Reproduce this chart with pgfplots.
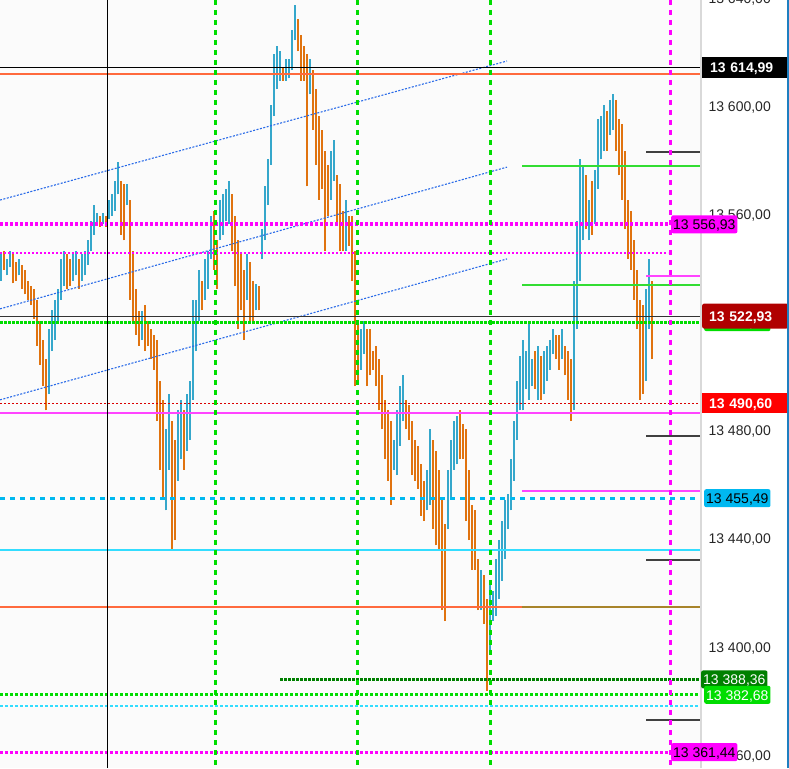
\documentclass[border=0pt]{standalone}
\usepackage{fontspec}
\setmainfont{Liberation Sans}
\usepackage{pgfplots}
\pgfplotsset{compat=1.18}
\usepackage{pgfplotstable}

\definecolor{upbar}{HTML}{35A7CB}
\definecolor{dnbar}{HTML}{E0730F}
\definecolor{mag}{HTML}{FF00FF}
\definecolor{mag2}{HTML}{FF44FF}
\definecolor{lgreen}{HTML}{00DD00}
\definecolor{dgreen}{HTML}{008000}
\definecolor{sgreen}{HTML}{33DD33}
\definecolor{skyb}{HTML}{00B8F0}
\definecolor{cyanl}{HTML}{33DDFF}
\definecolor{trend}{HTML}{2A6BE8}
\definecolor{tomato}{HTML}{FF6A3D}
\definecolor{olive2}{HTML}{A8842A}
\definecolor{darkred}{HTML}{B00000}
\definecolor{edge}{HTML}{1E7FC0}

% up bars: x (px), low, high
\pgfplotstableread{
x lo hi
1 13536 13546
7 13538 13544
10 13541 13547
19 13538 13544
49 13494 13518
52 13510 13525
55 13514 13529
58 13521 13533
61 13529 13544
64 13534 13547
73 13536 13546
76 13538 13547
82 13536 13546
85 13538 13547
88 13542 13551
91 13547 13558
94 13553 13564
97 13557 13561
103 13557 13561
109 13559 13566
112 13560 13568
115 13562 13573
118 13568 13580
127 13564 13572
142 13514 13525
166 13451 13481
169 13466 13494
178 13462 13488
181 13470 13492
187 13473 13494
190 13477 13499
193 13492 13529
196 13510 13529
199 13521 13540
205 13529 13544
208 13533 13547
211 13544 13560
220 13551 13566
223 13553 13568
226 13558 13570
229 13557 13573
247 13529 13546
256 13525 13535
262 13544 13555
265 13551 13571
268 13564 13581
271 13579 13601
274 13597 13620
277 13607 13623
280 13610 13621
286 13610 13618
289 13611 13618
292 13614 13629
295 13625 13638
310 13605 13618
331 13566 13584
334 13573 13588
346 13547 13566
361 13503 13518
364 13509 13521
394 13466 13477
397 13464 13488
400 13475 13497
403 13484 13501
427 13451 13466
430 13453 13481
448 13444 13466
451 13455 13477
454 13466 13484
457 13468 13486
481 13414 13429
490 13399 13425
493 13410 13421
496 13412 13433
499 13418 13440
502 13425 13447
505 13433 13455
508 13444 13457
511 13451 13470
514 13462 13484
517 13477 13499
520 13488 13508
523 13488 13514
526 13496 13510
529 13492 13521
532 13497 13507
538 13492 13512
544 13494 13510
547 13499 13512
550 13503 13514
553 13509 13518
562 13507 13518
574 13488 13536
577 13518 13558
580 13536 13581
583 13551 13579
589 13551 13566
595 13557 13577
598 13570 13596
601 13581 13597
604 13584 13601
610 13590 13603
613 13592 13605
646 13499 13533
649 13518 13544
}\upbars

% down bars: x (px), low, high
\pgfplotstableread{
x lo hi
4 13540 13547
13 13535 13546
16 13536 13543
22 13533 13542
25 13531 13540
28 13529 13536
31 13527 13534
34 13522 13533
37 13512 13529
40 13505 13521
43 13497 13514
46 13488 13507
67 13533 13546
70 13534 13544
79 13533 13544
100 13556 13560
106 13556 13560
121 13553 13573
124 13551 13572
130 13529 13566
133 13520 13547
136 13516 13533
139 13512 13525
145 13510 13527
148 13512 13521
151 13507 13518
154 13503 13516
157 13484 13514
160 13466 13499
163 13455 13492
172 13436 13484
175 13440 13477
184 13466 13488
202 13525 13536
214 13540 13562
217 13533 13551
232 13547 13568
235 13534 13560
238 13518 13551
241 13525 13546
244 13514 13540
250 13520 13543
253 13521 13536
259 13525 13534
283 13610 13615
298 13621 13633
301 13610 13627
304 13610 13623
307 13571 13620
313 13592 13614
316 13579 13607
319 13566 13597
322 13570 13592
325 13547 13584
328 13560 13579
337 13557 13575
340 13547 13572
343 13547 13562
349 13549 13560
352 13536 13560
355 13497 13547
358 13499 13521
367 13497 13518
370 13501 13518
373 13503 13510
376 13497 13512
379 13488 13507
382 13481 13501
385 13470 13492
388 13462 13488
391 13453 13484
406 13481 13492
409 13477 13490
412 13464 13484
415 13462 13477
418 13459 13475
421 13449 13468
424 13447 13462
433 13444 13477
436 13438 13473
439 13436 13466
442 13414 13455
445 13410 13446
460 13470 13488
463 13470 13483
466 13447 13481
469 13440 13466
472 13429 13453
475 13429 13451
478 13414 13433
484 13409 13427
487 13384 13418
535 13496 13510
541 13492 13508
556 13507 13516
559 13503 13516
565 13501 13512
568 13492 13510
571 13484 13507
586 13555 13575
592 13553 13573
607 13584 13599
616 13584 13603
619 13575 13596
622 13566 13594
625 13555 13584
628 13544 13566
631 13540 13562
634 13529 13551
637 13518 13540
640 13492 13529
643 13494 13527
652 13507 13536
}\dnbars

\newcommand{\lab}{\fontsize{14}{16}\selectfont}
\tikzset{
  tag/.style={anchor=west, font=\lab, inner xsep=2pt, inner ysep=0pt,
    minimum height=18pt, text height=10.5pt, text depth=0pt, rounded corners=2pt},
}

\begin{document}
\begin{tikzpicture}
\begin{axis}[
    at={(0,0)}, anchor=south west,
    scale only axis, width=702pt, height=768pt,
    xmin=0, xmax=702, ymin=13355.56, ymax=13640,
    set layers, clip mode=individual,
    axis line style={draw=none},
    axis background/.style={fill=gray!3},
    xtick=\empty,
    yticklabel pos=right,
    ytick={13360,13400,13440,13480,13560,13600,13640},
    yticklabels={{13 360,00},{13 400,00},{13 440,00},{13 480,00},{13 560,00},{13 600,00},{13 640,00}},
    major tick length=0pt,
    yticklabel style={font=\lab, text=black!85, xshift=3pt},
  ]
  % candles
  \addplot[draw=none, mark=none, forget plot,
    error bars/.cd, y dir=plus, y explicit, error mark=none,
    error bar style={line width=1.8pt, draw=upbar}]
    table[x=x, y=lo, y error expr=\thisrow{hi}-\thisrow{lo}] {\upbars};
  \addplot[draw=none, mark=none, forget plot,
    error bars/.cd, y dir=plus, y explicit, error mark=none,
    error bar style={line width=1.8pt, draw=dnbar}]
    table[x=x, y=lo, y error expr=\thisrow{hi}-\thisrow{lo}] {\dnbars};

  % trend channel
  \addplot[trend, line width=1.1pt, dash pattern=on 2pt off 1.5pt] coordinates {(0,13565.9) (507,13617.4)};
  \addplot[trend, line width=1.1pt, dash pattern=on 2pt off 1.5pt] coordinates {(0,13525.6) (507,13578.1)};
  \addplot[trend, line width=1.1pt, dash pattern=on 2pt off 1.5pt] coordinates {(0,13491.9) (507,13544.1)};

  % full-width levels
  \addplot[black, line width=1pt] coordinates {(0,13614.99) (702,13614.99)};
  \addplot[tomato, line width=2pt] coordinates {(0,13612.6) (702,13612.6)};
  \addplot[mag, line width=4pt, dash pattern=on 3pt off 2pt] coordinates {(0,13556.93) (670,13556.93)};
  \addplot[mag, line width=2pt, dash pattern=on 2pt off 2pt] coordinates {(0,13546.3) (668,13546.3)};
  \addplot[black!80, line width=1pt] coordinates {(0,13522.93) (702,13522.93)};
  \addplot[lgreen, line width=3pt, dash pattern=on 2.5pt off 1.5pt] coordinates {(0,13520.7) (702,13520.7)};
  \addplot[red!85!black, line width=1pt, dash pattern=on 2pt off 2pt] coordinates {(0,13490.6) (702,13490.6)};
  \addplot[mag2, line width=2pt] coordinates {(0,13487.0) (702,13487.0)};
  \addplot[skyb, line width=3pt, dash pattern=on 5pt off 5pt] coordinates {(0,13455.49) (702,13455.49)};
  \addplot[cyanl, line width=2pt] coordinates {(0,13436.3) (702,13436.3)};
  \addplot[tomato, line width=2pt] coordinates {(0,13415.2) (702,13415.2)};
  \addplot[dgreen, line width=3pt, dash pattern=on 2.5pt off 1.5pt] coordinates {(280,13388.36) (702,13388.36)};
  \addplot[lgreen, line width=3pt, dash pattern=on 3pt off 2pt] coordinates {(0,13382.68) (702,13382.68)};
  \addplot[cyanl, line width=2.5pt, dash pattern=on 3pt off 2pt] coordinates {(0,13378.5) (702,13378.5)};
  \addplot[mag, line width=3pt, dash pattern=on 3pt off 2pt] coordinates {(0,13361.44) (670,13361.44)};

  % right-side short levels
  \addplot[sgreen, line width=2pt] coordinates {(522,13578.5) (702,13578.5)};
  \addplot[sgreen, line width=2pt] coordinates {(522,13534.4) (702,13534.4)};
  \addplot[mag2, line width=2pt] coordinates {(522,13458.1) (702,13458.1)};
  \addplot[olive2, line width=2.5pt] coordinates {(522,13415.2) (702,13415.2)};
  \addplot[mag2, line width=2pt] coordinates {(646,13537.8) (702,13537.8)};
  \addplot[black!75, line width=2pt] coordinates {(646,13583.7) (702,13583.7)};
  \addplot[black!75, line width=2pt] coordinates {(646,13478.5) (702,13478.5)};
  \addplot[black!75, line width=2pt] coordinates {(646,13432.6) (702,13432.6)};
  \addplot[black!75, line width=2pt] coordinates {(646,13373.3) (702,13373.3)};

  % vertical markers
  \addplot[black, line width=1pt] coordinates {(107,13355.56) (107,13640)};
  \addplot[lgreen, line width=3pt, dash pattern=on 5pt off 5pt] coordinates {(215,13640) (215,13355.56)};
  \addplot[lgreen, line width=3pt, dash pattern=on 5pt off 5pt] coordinates {(357,13640) (357,13355.56)};
  \addplot[lgreen, line width=3pt, dash pattern=on 5pt off 5pt] coordinates {(490,13640) (490,13355.56)};
  \addplot[mag, line width=3pt, dash pattern=on 5pt off 5pt] coordinates {(670,13640) (670,13355.56)};
  \addplot[gray!30, line width=2pt] coordinates {(701,13355.56) (701,13640)};

  % price tags
  \node[tag, fill=black, text=white, rounded corners=0pt, minimum width=85pt, text width=72pt, inner xsep=8pt, minimum height=21pt, font=\lab\bfseries] at (axis cs:702,13614.99) {13 614,99};
  \node[tag, fill=lgreen, text=white, minimum width=65pt] at (axis cs:704,13520.7) {13 520,70};
  \node[tag, fill=darkred, text=white, minimum width=85pt, text width=72pt, inner xsep=7pt, minimum height=25pt, font=\lab\bfseries] at (axis cs:702,13522.93) {13 522,93};
  \node[tag, fill=red, text=white, rounded corners=0pt, minimum width=85pt, text width=72pt, inner xsep=7pt, minimum height=20pt, font=\lab\bfseries] at (axis cs:702,13490.6) {13 490,60};
  \node[tag, fill=skyb, text=black] at (axis cs:704,13455.49) {13 455,49};
  \node[tag, fill=dgreen, text=white] at (axis cs:701,13388.36) {13 388,36};
  \node[tag, fill=lgreen, text=white] at (axis cs:704,13382.68) {13 382,68};
  \node[tag, fill=mag, text=black] at (axis cs:671,13556.93) {13 556,93};
  \node[tag, fill=mag, text=black] at (axis cs:671,13361.44) {13 361,44};
\end{axis}
\fill[edge] (787pt,0pt) rectangle (789pt,768pt);
\pgfresetboundingbox
\useasboundingbox (0,0) rectangle (789pt,768pt);
\end{tikzpicture}
\end{document}
